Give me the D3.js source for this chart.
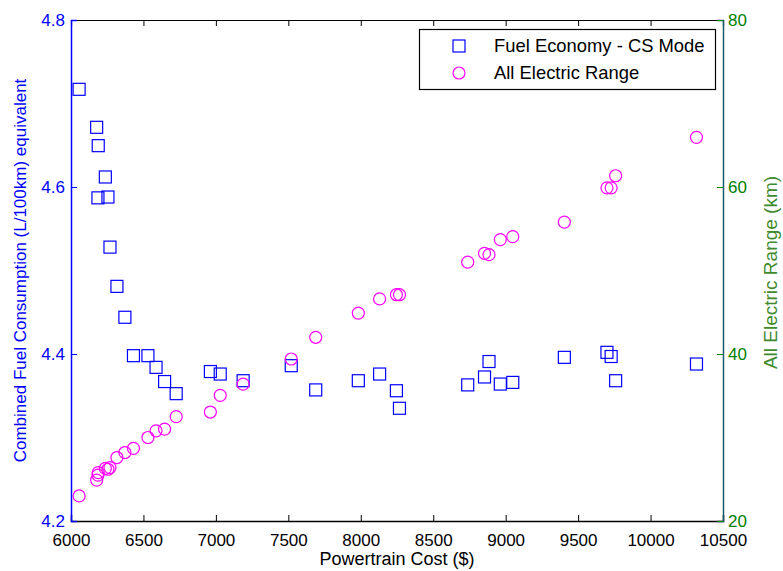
<!DOCTYPE html>
<html>
<head>
<meta charset="utf-8">
<script src="https://cdn.jsdelivr.net/npm/d3@7"></script>
<style>
  html, body { margin: 0; padding: 0; background: #fff; }
  svg { display: block; font-family: Arial, "Liberation Sans", Helvetica, sans-serif; }
</style>
</head>
<body>
<svg id="chart" width="783" height="571"></svg>
<script>
// ---- Data ----
const powertrainCost = [6056, 6177, 6186, 6188, 6237, 6255, 6269, 6317, 6372, 6431, 6531, 6587, 6646, 6726, 6962, 7030, 7188, 7520, 7689, 7983, 8130, 8246, 8267, 8738, 8854, 8885, 8963, 9049, 9405, 9699, 9728, 9759, 10317];
const fuelConsumption = [4.717, 4.6715, 4.587, 4.6495, 4.612, 4.588, 4.528, 4.481, 4.444, 4.398, 4.398, 4.384, 4.367, 4.3525, 4.379, 4.376, 4.368, 4.386, 4.357, 4.368, 4.376, 4.356, 4.335, 4.363, 4.3725, 4.391, 4.364, 4.366, 4.396, 4.402, 4.397, 4.368, 4.388];
const electricRange = [23.0, 24.9, 25.5, 25.8, 26.3, 26.2, 26.4, 27.6, 28.2, 28.7, 30.0, 30.8, 31.0, 32.5, 33.05, 35.05, 36.4, 39.4, 42.0, 44.9, 46.6, 47.1, 47.1, 51.0, 52.06, 51.9, 53.7, 54.05, 55.8, 59.9, 59.9, 61.35, 65.95];
const xTicks = [6000, 6500, 7000, 7500, 8000, 8500, 9000, 9500, 10000, 10500];
const yLeftTicks = [4.2, 4.4, 4.6, 4.8];
const yRightTicks = [20, 40, 60, 80];
const legendLabels = ["Fuel Economy - CS Mode", "All Electric Range"];
const xLabel = "Powertrain Cost ($)";
const yLeftLabel = "Combined Fuel Consumption (L/100km) equivalent";
const yRightLabel = "All Electric Range (km)";

// ---- Layout ----
const W = 783, H = 571;
const margin = {left: 71, right: 60, top: 20, bottom: 50};
const x0 = margin.left, x1 = W - margin.right, y0 = margin.top, y1 = H - margin.bottom;

const blue = "#0000ff", magenta = "#ff00ff", green = "#008000", rightLabelColor = "#3f8a2c", rightAxisColor = "#1a5a6e";

const x = d3.scaleLinear().domain([6000, 10500]).range([x0, x1]);
const yL = d3.scaleLinear().domain([4.2, 4.8]).range([y1, y0]);
const yR = d3.scaleLinear().domain([20, 80]).range([y1, y0]);

const svg = d3.select("#chart");
svg.append("rect").attr("width", W).attr("height", H).attr("fill", "#fff");

const fs = 17;

// bottom axis (ticks inward)
const gB = svg.append("g").attr("transform", `translate(0,${y1})`)
  .call(d3.axisBottom(x).tickValues(xTicks).tickSize(-6).tickPadding(13).tickFormat(d3.format("d")));
gB.select(".domain").attr("stroke", "#000").attr("stroke-width", 1.5);
gB.selectAll(".tick line").attr("stroke", "#000");
gB.selectAll(".tick text").attr("fill", "#000").attr("font-size", fs).attr("font-family", "Arial, 'Liberation Sans', sans-serif");

// top axis (ticks inward, no labels)
const gT = svg.append("g").attr("transform", `translate(0,${y0})`)
  .call(d3.axisTop(x).tickValues(xTicks).tickSize(-6).tickFormat(""));
gT.select(".domain").attr("stroke", "#000").attr("stroke-width", 1.2);
gT.selectAll(".tick line").attr("stroke", "#000");

// left axis
const gL = svg.append("g").attr("transform", `translate(${x0},0)`)
  .call(d3.axisLeft(yL).tickValues(yLeftTicks).tickSize(-6).tickPadding(6).tickFormat(d3.format(".1f")));
gL.select(".domain").attr("stroke", blue).attr("stroke-width", 1.5);
gL.selectAll(".tick line").attr("stroke", blue);
gL.selectAll(".tick text").attr("fill", blue).attr("font-size", fs).attr("font-family", "Arial, 'Liberation Sans', sans-serif");

// right axis
const gR = svg.append("g").attr("transform", `translate(${x1},0)`)
  .call(d3.axisRight(yR).tickValues(yRightTicks).tickSize(-6).tickPadding(5).tickFormat(d3.format("d")));
gR.select(".domain").attr("stroke", rightAxisColor).attr("stroke-width", 1.5);
gR.selectAll(".tick line").attr("stroke", green);
gR.selectAll(".tick text").attr("fill", green).attr("font-size", fs).attr("font-family", "Arial, 'Liberation Sans', sans-serif");

// axis labels
svg.append("text").attr("x", (x0 + x1) / 2).attr("y", 565).attr("text-anchor", "middle")
  .attr("font-size", 18).attr("fill", "#000").text(xLabel);
svg.append("text").attr("transform", `translate(26,${(y0 + y1) / 2}) rotate(-90)`).attr("text-anchor", "middle")
  .attr("font-size", fs).attr("fill", blue).text(yLeftLabel);
svg.append("text").attr("transform", `translate(777,${(y0 + y1) / 2 + 2}) rotate(-90)`).attr("text-anchor", "middle")
  .attr("font-size", 19).attr("fill", rightLabelColor).text(yRightLabel);

// data
const pts = powertrainCost.map((c, i) => ({c, f: fuelConsumption[i], r: electricRange[i]}));
const s = 12;
svg.append("g").selectAll("rect").data(pts).join("rect")
  .attr("x", d => x(d.c) - s / 2).attr("y", d => yL(d.f) - s / 2)
  .attr("width", s).attr("height", s)
  .attr("fill", "none").attr("stroke", blue).attr("stroke-width", 1.2);
svg.append("g").selectAll("circle").data(pts).join("circle")
  .attr("cx", d => x(d.c)).attr("cy", d => yR(d.r)).attr("r", 6)
  .attr("fill", "none").attr("stroke", magenta).attr("stroke-width", 1.2);

// legend
const lg = svg.append("g");
lg.append("rect").attr("x", 419.5).attr("y", 29.5).attr("width", 296).attr("height", 60)
  .attr("fill", "#fff").attr("stroke", "#000").attr("stroke-width", 1.2);
lg.append("rect").attr("x", 459 - 6).attr("y", 46 - 6).attr("width", s).attr("height", s)
  .attr("fill", "none").attr("stroke", blue).attr("stroke-width", 1.2);
lg.append("circle").attr("cx", 459).attr("cy", 73).attr("r", 6)
  .attr("fill", "none").attr("stroke", magenta).attr("stroke-width", 1.2);
lg.selectAll("text.lab").data(legendLabels).join("text").attr("class", "lab")
  .attr("x", 494).attr("y", (d, i) => 52 + i * 27)
  .attr("font-size", 18.4).attr("fill", "#000").text(d => d);
</script>
</body>
</html>
